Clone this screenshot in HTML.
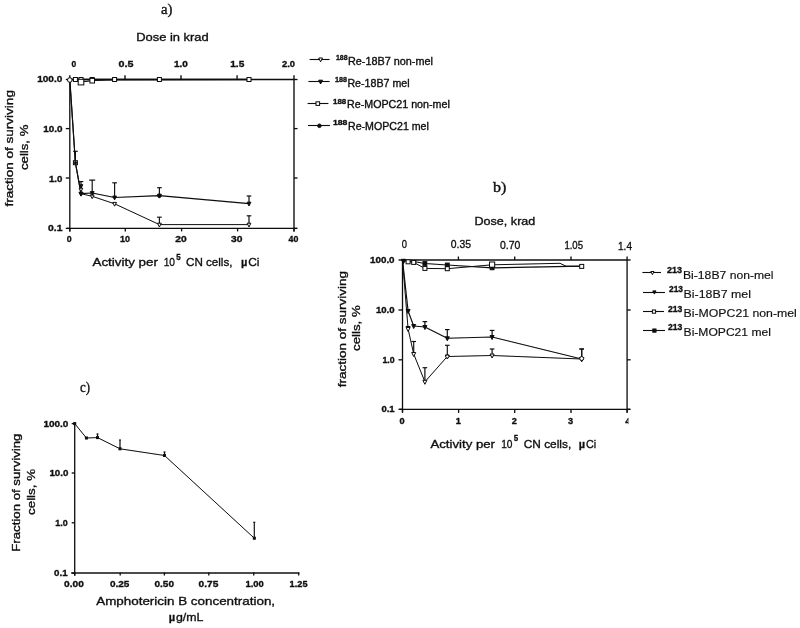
<!DOCTYPE html>
<html><head><meta charset="utf-8"><title>figure</title><style>html,body{margin:0;padding:0;background:#fff;overflow:hidden}svg{display:block}</style></head><body>
<svg width="800" height="628" viewBox="0 0 800 628" font-family="Liberation Sans, Arial, sans-serif">
<rect width="800" height="628" fill="#fff"/>
<defs><filter id="soft" x="0" y="0" width="800" height="628" filterUnits="userSpaceOnUse"><feGaussianBlur stdDeviation="0.35"/></filter></defs>
<g filter="url(#soft)">
<g id="chart-a">
<text transform="translate(161.00,14.2) scale(1.075,1)" font-size="13.8" font-weight="normal" fill="#111" stroke="#111" stroke-width="0.35" font-family="Liberation Serif, Times New Roman, serif">a)</text>
<text transform="translate(136.20,40.7) scale(1.115,1)" font-size="11.6" font-weight="normal" fill="#111" stroke="#111" stroke-width="0.35">Dose in krad</text>
<line x1="69.8" y1="79.0" x2="69.8" y2="231.4" stroke="#0a0a0a" stroke-width="1.3"/>
<line x1="69.8" y1="79.5" x2="294" y2="79.5" stroke="#0a0a0a" stroke-width="1.3"/>
<line x1="294" y1="79.0" x2="294" y2="231.4" stroke="#0a0a0a" stroke-width="1.3"/>
<line x1="66.8" y1="228.4" x2="297" y2="228.4" stroke="#0a0a0a" stroke-width="1.3"/>
<line x1="65.8" y1="79.5" x2="69.8" y2="79.5" stroke="#0a0a0a" stroke-width="1.3"/>
<line x1="294" y1="79.5" x2="297.5" y2="79.5" stroke="#0a0a0a" stroke-width="1.3"/>
<text transform="translate(37.20,82.4) scale(1.070,1)" font-size="9.4" font-weight="bold" fill="#111" stroke="#111" stroke-width="0.35">100.0</text>
<line x1="65.8" y1="128.6" x2="69.8" y2="128.6" stroke="#0a0a0a" stroke-width="1.3"/>
<line x1="294" y1="128.6" x2="297.5" y2="128.6" stroke="#0a0a0a" stroke-width="1.3"/>
<text transform="translate(43.20,131.5) scale(1.050,1)" font-size="9.4" font-weight="bold" fill="#111" stroke="#111" stroke-width="0.35">10.0</text>
<line x1="65.8" y1="178" x2="69.8" y2="178" stroke="#0a0a0a" stroke-width="1.3"/>
<line x1="294" y1="178" x2="297.5" y2="178" stroke="#0a0a0a" stroke-width="1.3"/>
<text transform="translate(49.00,181.8) scale(1.026,1)" font-size="9.4" font-weight="bold" fill="#111" stroke="#111" stroke-width="0.35">1.0</text>
<line x1="65.8" y1="228.4" x2="69.8" y2="228.4" stroke="#0a0a0a" stroke-width="1.3"/>
<line x1="294" y1="228.4" x2="297.5" y2="228.4" stroke="#0a0a0a" stroke-width="1.3"/>
<text transform="translate(48.00,231.3) scale(1.102,1)" font-size="9.4" font-weight="bold" fill="#111" stroke="#111" stroke-width="0.35">0.1</text>
<line x1="69.8" y1="228.4" x2="69.8" y2="231.4" stroke="#0a0a0a" stroke-width="1.3"/>
<text transform="translate(66.70,242.2) scale(0.939,1)" font-size="9.4" font-weight="bold" fill="#111" stroke="#111" stroke-width="0.35">0</text>
<line x1="125.3" y1="228.4" x2="125.3" y2="231.4" stroke="#0a0a0a" stroke-width="1.3"/>
<text transform="translate(120.00,242.2) scale(0.958,1)" font-size="9.4" font-weight="bold" fill="#111" stroke="#111" stroke-width="0.35">10</text>
<line x1="181.6" y1="228.4" x2="181.6" y2="231.4" stroke="#0a0a0a" stroke-width="1.3"/>
<text transform="translate(175.20,242.2) scale(1.093,1)" font-size="9.4" font-weight="bold" fill="#111" stroke="#111" stroke-width="0.35">20</text>
<line x1="237.6" y1="228.4" x2="237.6" y2="231.4" stroke="#0a0a0a" stroke-width="1.3"/>
<text transform="translate(231.00,242.2) scale(1.093,1)" font-size="9.4" font-weight="bold" fill="#111" stroke="#111" stroke-width="0.35">30</text>
<line x1="294" y1="228.4" x2="294" y2="231.4" stroke="#0a0a0a" stroke-width="1.3"/>
<text transform="translate(288.60,242.2) scale(0.939,1)" font-size="9.4" font-weight="bold" fill="#111" stroke="#111" stroke-width="0.35">40</text>
<line x1="69.8" y1="75.2" x2="69.8" y2="79.5" stroke="#0a0a0a" stroke-width="1.3"/>
<text transform="translate(71.60,66.5) scale(0.901,1)" font-size="9.4" font-weight="bold" fill="#111" stroke="#111" stroke-width="0.35">0</text>
<line x1="125" y1="75.2" x2="125" y2="79.5" stroke="#0a0a0a" stroke-width="1.3"/>
<text transform="translate(118.60,66.5) scale(1.140,1)" font-size="9.4" font-weight="bold" fill="#111" stroke="#111" stroke-width="0.35">0.5</text>
<line x1="181" y1="75.2" x2="181" y2="79.5" stroke="#0a0a0a" stroke-width="1.3"/>
<text transform="translate(173.90,66.5) scale(1.064,1)" font-size="9.4" font-weight="bold" fill="#111" stroke="#111" stroke-width="0.35">1.0</text>
<line x1="237.1" y1="75.2" x2="237.1" y2="79.5" stroke="#0a0a0a" stroke-width="1.3"/>
<text transform="translate(230.20,66.5) scale(1.079,1)" font-size="9.4" font-weight="bold" fill="#111" stroke="#111" stroke-width="0.35">1.5</text>
<line x1="294" y1="75.2" x2="294" y2="79.5" stroke="#0a0a0a" stroke-width="1.3"/>
<text transform="translate(282.00,66.5) scale(0.995,1)" font-size="9.4" font-weight="bold" fill="#111" stroke="#111" stroke-width="0.35">2.0</text>
<text transform="translate(13.0,206.60) rotate(-90) scale(1.167,1)" font-size="11.6" font-weight="normal" fill="#111" stroke="#111" stroke-width="0.35">fraction of surviving</text>
<text transform="translate(27.5,170.00) rotate(-90) scale(1.136,1)" font-size="11.6" font-weight="normal" fill="#111" stroke="#111" stroke-width="0.35">cells, %</text>
<text transform="translate(92.50,266.2) scale(1.155,1)" font-size="11.6" font-weight="normal" fill="#111" stroke="#111" stroke-width="0.35">Activity per</text>
<text transform="translate(163.70,266.2) scale(0.878,1)" font-size="11.6" font-weight="normal" fill="#111" stroke="#111" stroke-width="0.35">10</text>
<text transform="translate(176.20,260) scale(0.835,1)" font-size="9.5" font-weight="bold" fill="#111" stroke="#111" stroke-width="0.35">5</text>
<text transform="translate(186.00,266.2) scale(1.002,1)" font-size="11.6" font-weight="normal" fill="#111" stroke="#111" stroke-width="0.35">CN cells,</text>
<text transform="translate(241.00,266.2) scale(0.945,1)" font-size="11.6" font-weight="bold" fill="#111" stroke="#111" stroke-width="0.35">µ</text>
<text transform="translate(248.30,266.2) scale(1.022,1)" font-size="11.6" font-weight="normal" fill="#111" stroke="#111" stroke-width="0.35">Ci</text>
<polyline fill="none" stroke="#0a0a0a" stroke-width="1.6" stroke-linejoin="round" points="69.8,79.5 249.0,79.5"/>
<polyline fill="none" stroke="#0a0a0a" stroke-width="1" stroke-linejoin="round" points="69.8,79.5 75.4,79.5 81.0,82.1 92.2,80.7 114.6,79.8 249.0,79.5"/>
<polyline fill="none" stroke="#0a0a0a" stroke-width="1.2" stroke-linejoin="round" points="69.8,79.5 75.4,162.7 81.0,193.7 92.2,193.0 114.6,197.5 159.4,195.7 249.0,203.6"/>
<polyline fill="none" stroke="#0a0a0a" stroke-width="1.0" stroke-linejoin="round" points="69.8,79.5 75.4,162.7 81.0,193.7 92.2,196.3 114.6,203.8 159.4,224.6 249.0,224.6"/>
<line x1="159.39999999999998" y1="224.6" x2="159.39999999999998" y2="217.2" stroke="#0a0a0a" stroke-width="1.15"/>
<line x1="157.09999999999997" y1="217.2" x2="161.7" y2="217.2" stroke="#0a0a0a" stroke-width="1.15"/>
<line x1="249.0" y1="224.6" x2="249.0" y2="215.8" stroke="#0a0a0a" stroke-width="1.15"/>
<line x1="246.7" y1="215.8" x2="251.3" y2="215.8" stroke="#0a0a0a" stroke-width="1.15"/>
<line x1="75.39999999999999" y1="162.7" x2="75.39999999999999" y2="151.3" stroke="#0a0a0a" stroke-width="1.15"/>
<line x1="73.1" y1="151.3" x2="77.69999999999999" y2="151.3" stroke="#0a0a0a" stroke-width="1.15"/>
<line x1="81.0" y1="193.7" x2="81.0" y2="181.6" stroke="#0a0a0a" stroke-width="1.15"/>
<line x1="78.7" y1="181.6" x2="83.3" y2="181.6" stroke="#0a0a0a" stroke-width="1.15"/>
<line x1="92.19999999999999" y1="193" x2="92.19999999999999" y2="180.1" stroke="#0a0a0a" stroke-width="1.15"/>
<line x1="89.19999999999999" y1="180.1" x2="95.19999999999999" y2="180.1" stroke="#0a0a0a" stroke-width="1.15"/>
<line x1="114.6" y1="197.5" x2="114.6" y2="182.8" stroke="#0a0a0a" stroke-width="1.15"/>
<line x1="112.3" y1="182.8" x2="116.89999999999999" y2="182.8" stroke="#0a0a0a" stroke-width="1.15"/>
<line x1="159.39999999999998" y1="195.7" x2="159.39999999999998" y2="187.7" stroke="#0a0a0a" stroke-width="1.15"/>
<line x1="157.09999999999997" y1="187.7" x2="161.7" y2="187.7" stroke="#0a0a0a" stroke-width="1.15"/>
<line x1="249.0" y1="203.6" x2="249.0" y2="196" stroke="#0a0a0a" stroke-width="1.15"/>
<line x1="246.7" y1="196" x2="251.3" y2="196" stroke="#0a0a0a" stroke-width="1.15"/>
<rect x="73.39999999999999" y="77.5" width="4.0" height="4.0" fill="#fff" stroke="#0a0a0a" stroke-width="1"/>
<rect x="79.0" y="77.5" width="4.0" height="4.0" fill="#fff" stroke="#0a0a0a" stroke-width="1"/>
<rect x="90.19999999999999" y="77.5" width="4.0" height="4.0" fill="#fff" stroke="#0a0a0a" stroke-width="1"/>
<rect x="112.6" y="77.5" width="4.0" height="4.0" fill="#fff" stroke="#0a0a0a" stroke-width="1"/>
<rect x="157.39999999999998" y="77.5" width="4.0" height="4.0" fill="#fff" stroke="#0a0a0a" stroke-width="1"/>
<rect x="247.0" y="77.5" width="4.0" height="4.0" fill="#fff" stroke="#0a0a0a" stroke-width="1"/>
<rect x="78.2" y="79.3" width="5.6" height="5.6" fill="#fff" stroke="#0a0a0a" stroke-width="1"/>
<rect x="89.89999999999999" y="78.4" width="4.6" height="4.6" fill="#fff" stroke="#0a0a0a" stroke-width="1"/>
<circle cx="69.8" cy="80.0" r="2.3" fill="#fff" stroke="#0a0a0a" stroke-width="1"/>
<polygon points="79.1,192.29999999999998 82.9,192.29999999999998 81.0,196.1" fill="#fff" stroke="#0a0a0a" stroke-width="1"/>
<polygon points="90.29999999999998,194.9 94.1,194.9 92.19999999999999,198.70000000000002" fill="#fff" stroke="#0a0a0a" stroke-width="1"/>
<polygon points="112.69999999999999,202.4 116.5,202.4 114.6,206.20000000000002" fill="#fff" stroke="#0a0a0a" stroke-width="1"/>
<polygon points="157.49999999999997,223.2 161.29999999999998,223.2 159.39999999999998,227.0" fill="#fff" stroke="#0a0a0a" stroke-width="1"/>
<polygon points="247.1,223.2 250.9,223.2 249.0,227.0" fill="#fff" stroke="#0a0a0a" stroke-width="1"/>
<polygon points="79.1,192.29999999999998 82.9,192.29999999999998 81.0,196.1" fill="#0a0a0a" stroke="#0a0a0a" stroke-width="1"/>
<polygon points="90.29999999999998,191.6 94.1,191.6 92.19999999999999,195.4" fill="#0a0a0a" stroke="#0a0a0a" stroke-width="1"/>
<polygon points="112.69999999999999,196.1 116.5,196.1 114.6,199.9" fill="#0a0a0a" stroke="#0a0a0a" stroke-width="1"/>
<polygon points="157.49999999999997,194.29999999999998 161.29999999999998,194.29999999999998 159.39999999999998,198.1" fill="#0a0a0a" stroke="#0a0a0a" stroke-width="1"/>
<polygon points="247.1,202.2 250.9,202.2 249.0,206.0" fill="#0a0a0a" stroke="#0a0a0a" stroke-width="1"/>
<polygon points="79.2,184.7 82.8,184.7 81.0,188.3" fill="#0a0a0a" stroke="#0a0a0a" stroke-width="1"/>
<polygon points="79.2,188.2 82.8,188.2 81.0,191.8" fill="#fff" stroke="#0a0a0a" stroke-width="1"/>
<rect x="73.39999999999999" y="160.7" width="4.0" height="4.0" fill="#fff" stroke="#0a0a0a" stroke-width="1"/>
<circle cx="75.39999999999999" cy="162.7" r="1.2" fill="#0a0a0a" stroke="#0a0a0a" stroke-width="1"/>
<circle cx="159.39999999999998" cy="195.7" r="1.8" fill="#0a0a0a" stroke="#0a0a0a" stroke-width="1"/>
<line x1="309.6" y1="59.5" x2="329.6" y2="59.5" stroke="#0a0a0a" stroke-width="1.1"/>
<polygon points="318.70000000000005,58.0 322.5,58.0 320.6,61.8" fill="#fff" stroke="#0a0a0a" stroke-width="1"/>
<text transform="translate(336.00,60) scale(0.914,1)" font-size="7.6" font-weight="bold" fill="#111" stroke="#111" stroke-width="0.35">188</text>
<text transform="translate(348.00,64.5) scale(1.063,1)" font-size="10.2" font-weight="normal" fill="#111" stroke="#111" stroke-width="0.35">Re-18B7 non-mel</text>
<line x1="308.4" y1="81.5" x2="329.6" y2="81.5" stroke="#0a0a0a" stroke-width="1.1"/>
<polygon points="318.70000000000005,80.19999999999999 322.5,80.19999999999999 320.6,84.0" fill="#0a0a0a" stroke="#0a0a0a" stroke-width="1"/>
<text transform="translate(335.00,82.4) scale(0.945,1)" font-size="7.6" font-weight="bold" fill="#111" stroke="#111" stroke-width="0.35">188</text>
<text transform="translate(347.40,86.9) scale(1.045,1)" font-size="10.2" font-weight="normal" fill="#111" stroke="#111" stroke-width="0.35">Re-18B7 mel</text>
<line x1="307.6" y1="103.5" x2="328.4" y2="103.5" stroke="#0a0a0a" stroke-width="1.1"/>
<rect x="316.0" y="101.8" width="3.6" height="3.6" fill="#fff" stroke="#0a0a0a" stroke-width="1"/>
<text transform="translate(333.00,103.6) scale(1.040,1)" font-size="7.6" font-weight="bold" fill="#111" stroke="#111" stroke-width="0.35">188</text>
<text transform="translate(347.00,108.1) scale(1.050,1)" font-size="10.2" font-weight="normal" fill="#111" stroke="#111" stroke-width="0.35">Re-MOPC21 non-mel</text>
<line x1="308" y1="125.5" x2="330" y2="125.5" stroke="#0a0a0a" stroke-width="1.1"/>
<circle cx="319.4" cy="125.8" r="1.8" fill="#0a0a0a" stroke="#0a0a0a" stroke-width="1"/>
<text transform="translate(333.00,125) scale(1.135,1)" font-size="7.6" font-weight="bold" fill="#111" stroke="#111" stroke-width="0.35">188</text>
<text transform="translate(348.00,129.5) scale(1.043,1)" font-size="10.2" font-weight="normal" fill="#111" stroke="#111" stroke-width="0.35">Re-MOPC21 mel</text>
</g>
<g id="chart-b">
<text transform="translate(493.00,191.6) scale(1.163,1)" font-size="13.8" font-weight="normal" fill="#111" stroke="#111" stroke-width="0.35" font-family="Liberation Serif, Times New Roman, serif">b)</text>
<text transform="translate(474.50,225.2) scale(1.086,1)" font-size="11.6" font-weight="normal" fill="#111" stroke="#111" stroke-width="0.35">Dose, krad</text>
<line x1="402.5" y1="259.5" x2="402.5" y2="412.3" stroke="#0a0a0a" stroke-width="1.3"/>
<line x1="402.5" y1="260" x2="627.1" y2="260" stroke="#0a0a0a" stroke-width="1.3"/>
<line x1="627.1" y1="259.5" x2="627.1" y2="412.3" stroke="#0a0a0a" stroke-width="1.3"/>
<line x1="399.5" y1="409.3" x2="630.1" y2="409.3" stroke="#0a0a0a" stroke-width="1.3"/>
<line x1="398.5" y1="260" x2="402.5" y2="260" stroke="#0a0a0a" stroke-width="1.3"/>
<line x1="627.1" y1="260" x2="630.6" y2="260" stroke="#0a0a0a" stroke-width="1.3"/>
<text transform="translate(370.00,263.1) scale(1.045,1)" font-size="9.4" font-weight="bold" fill="#111" stroke="#111" stroke-width="0.35">100.0</text>
<line x1="398.5" y1="310" x2="402.5" y2="310" stroke="#0a0a0a" stroke-width="1.3"/>
<line x1="627.1" y1="310" x2="630.6" y2="310" stroke="#0a0a0a" stroke-width="1.3"/>
<text transform="translate(376.00,313.1) scale(1.017,1)" font-size="9.4" font-weight="bold" fill="#111" stroke="#111" stroke-width="0.35">10.0</text>
<line x1="398.5" y1="359.8" x2="402.5" y2="359.8" stroke="#0a0a0a" stroke-width="1.3"/>
<line x1="627.1" y1="359.8" x2="630.6" y2="359.8" stroke="#0a0a0a" stroke-width="1.3"/>
<text transform="translate(382.40,362.90000000000003) scale(0.934,1)" font-size="9.4" font-weight="bold" fill="#111" stroke="#111" stroke-width="0.35">1.0</text>
<line x1="398.5" y1="409.3" x2="402.5" y2="409.3" stroke="#0a0a0a" stroke-width="1.3"/>
<line x1="627.1" y1="409.3" x2="630.6" y2="409.3" stroke="#0a0a0a" stroke-width="1.3"/>
<text transform="translate(381.40,412.40000000000003) scale(1.010,1)" font-size="9.4" font-weight="bold" fill="#111" stroke="#111" stroke-width="0.35">0.1</text>
<clipPath id="clip4"><rect x="620" y="414" width="8.4" height="14"/></clipPath>
<line x1="402.5" y1="409.3" x2="402.5" y2="412.90000000000003" stroke="#0a0a0a" stroke-width="1.3"/>
<text transform="translate(399.60,424.1) scale(0.978,1)" font-size="9.4" font-weight="bold" fill="#111" stroke="#111" stroke-width="0.35">0</text>
<line x1="458.6" y1="409.3" x2="458.6" y2="412.90000000000003" stroke="#0a0a0a" stroke-width="1.3"/>
<text transform="translate(455.70,424.1) scale(0.978,1)" font-size="9.4" font-weight="bold" fill="#111" stroke="#111" stroke-width="0.35">1</text>
<line x1="514.7" y1="409.3" x2="514.7" y2="412.90000000000003" stroke="#0a0a0a" stroke-width="1.3"/>
<text transform="translate(511.80,424.1) scale(0.978,1)" font-size="9.4" font-weight="bold" fill="#111" stroke="#111" stroke-width="0.35">2</text>
<line x1="571" y1="409.3" x2="571" y2="412.90000000000003" stroke="#0a0a0a" stroke-width="1.3"/>
<text transform="translate(568.10,424.1) scale(0.978,1)" font-size="9.4" font-weight="bold" fill="#111" stroke="#111" stroke-width="0.35">3</text>
<line x1="627.1" y1="409.3" x2="627.1" y2="412.90000000000003" stroke="#0a0a0a" stroke-width="1.3"/>
<g clip-path="url(#clip4)">
<text transform="translate(625.30,424.1) scale(1.035,1)" font-size="9.4" font-weight="bold" fill="#111" stroke="#111" stroke-width="0.35">4</text>
</g>
<text transform="translate(401.80,247.6) scale(0.822,1)" font-size="11.4" font-weight="normal" fill="#111" stroke="#111" stroke-width="0.35">0</text>
<line x1="458.4" y1="256.5" x2="458.4" y2="260" stroke="#0a0a0a" stroke-width="1.3"/>
<text transform="translate(450.80,247.8) scale(0.911,1)" font-size="11.4" font-weight="normal" fill="#111" stroke="#111" stroke-width="0.35">0.35</text>
<line x1="514.7" y1="256.5" x2="514.7" y2="260" stroke="#0a0a0a" stroke-width="1.3"/>
<text transform="translate(500.00,248.6) scale(0.920,1)" font-size="11.4" font-weight="normal" fill="#111" stroke="#111" stroke-width="0.35">0.70</text>
<line x1="571" y1="256.5" x2="571" y2="260" stroke="#0a0a0a" stroke-width="1.3"/>
<text transform="translate(564.40,248.6) scale(0.839,1)" font-size="11.4" font-weight="normal" fill="#111" stroke="#111" stroke-width="0.35">1.05</text>
<line x1="627.1" y1="256.5" x2="627.1" y2="260" stroke="#0a0a0a" stroke-width="1.3"/>
<text transform="translate(618.00,249.6) scale(0.884,1)" font-size="11.4" font-weight="normal" fill="#111" stroke="#111" stroke-width="0.35">1.4</text>
<text transform="translate(345.6,387.30) rotate(-90) scale(1.165,1)" font-size="11.6" font-weight="normal" fill="#111" stroke="#111" stroke-width="0.35">fraction of surviving</text>
<text transform="translate(360.3,351.00) rotate(-90) scale(1.144,1)" font-size="11.6" font-weight="normal" fill="#111" stroke="#111" stroke-width="0.35">cells, %</text>
<text transform="translate(430.50,447.7) scale(1.137,1)" font-size="11.6" font-weight="normal" fill="#111" stroke="#111" stroke-width="0.35">Activity per</text>
<text transform="translate(501.20,447.7) scale(0.878,1)" font-size="11.6" font-weight="normal" fill="#111" stroke="#111" stroke-width="0.35">10</text>
<text transform="translate(513.70,441.3) scale(0.835,1)" font-size="9.5" font-weight="bold" fill="#111" stroke="#111" stroke-width="0.35">5</text>
<text transform="translate(523.70,447.7) scale(1.024,1)" font-size="11.6" font-weight="normal" fill="#111" stroke="#111" stroke-width="0.35">CN cells,</text>
<text transform="translate(578.70,447.7) scale(0.945,1)" font-size="11.6" font-weight="bold" fill="#111" stroke="#111" stroke-width="0.35">µ</text>
<text transform="translate(586.00,447.7) scale(0.930,1)" font-size="11.6" font-weight="normal" fill="#111" stroke="#111" stroke-width="0.35">Ci</text>
<polyline fill="none" stroke="#0a0a0a" stroke-width="1.0" stroke-linejoin="round" points="402.5,260.0 408.1,261.8 413.7,262.4 424.9,268.4 447.3,268.7 492.1,264.8 560.0,263.3 566.0,266.2 581.7,266.4"/>
<polyline fill="none" stroke="#0a0a0a" stroke-width="1.2" stroke-linejoin="round" points="402.5,260.0 408.1,261.0 413.7,261.5 424.9,263.5 447.3,265.0 492.1,267.8 581.7,266.2"/>
<rect x="423.0" y="261.6" width="3.8" height="3.8" fill="#0a0a0a" stroke="#0a0a0a" stroke-width="1"/>
<rect x="445.40000000000003" y="263.1" width="3.8" height="3.8" fill="#0a0a0a" stroke="#0a0a0a" stroke-width="1"/>
<rect x="490.20000000000005" y="265.90000000000003" width="3.8" height="3.8" fill="#0a0a0a" stroke="#0a0a0a" stroke-width="1"/>
<rect x="406.1" y="259.8" width="4.0" height="4.0" fill="#fff" stroke="#0a0a0a" stroke-width="1"/>
<rect x="411.7" y="260.4" width="4.0" height="4.0" fill="#fff" stroke="#0a0a0a" stroke-width="1"/>
<rect x="422.9" y="266.4" width="4.0" height="4.0" fill="#fff" stroke="#0a0a0a" stroke-width="1"/>
<rect x="445.3" y="266.7" width="4.0" height="4.0" fill="#fff" stroke="#0a0a0a" stroke-width="1"/>
<rect x="490.1" y="262.8" width="4.0" height="4.0" fill="#fff" stroke="#0a0a0a" stroke-width="1"/>
<rect x="579.7" y="264.4" width="4.0" height="4.0" fill="#fff" stroke="#0a0a0a" stroke-width="1"/>
<rect x="489.5" y="262.0" width="5.2" height="5.2" fill="#fff" stroke="#0a0a0a" stroke-width="1"/>
<polyline fill="none" stroke="#0a0a0a" stroke-width="1.15" stroke-linejoin="round" points="402.5,260.0 408.1,311.0 413.7,326.0 424.9,327.0 447.3,338.3 492.1,337.0 581.7,359.0"/>
<polyline fill="none" stroke="#0a0a0a" stroke-width="1.0" stroke-linejoin="round" points="402.5,260.0 408.1,329.0 413.7,354.0 424.9,381.8 447.3,356.5 492.1,355.5 581.7,359.0"/>
<line x1="408.1" y1="329" x2="408.1" y2="326.5" stroke="#0a0a0a" stroke-width="1.15"/>
<line x1="405.8" y1="326.5" x2="410.40000000000003" y2="326.5" stroke="#0a0a0a" stroke-width="1.15"/>
<line x1="413.7" y1="354" x2="413.7" y2="341.5" stroke="#0a0a0a" stroke-width="1.15"/>
<line x1="411.4" y1="341.5" x2="416.0" y2="341.5" stroke="#0a0a0a" stroke-width="1.15"/>
<line x1="424.9" y1="381.8" x2="424.9" y2="367.7" stroke="#0a0a0a" stroke-width="1.15"/>
<line x1="422.59999999999997" y1="367.7" x2="427.2" y2="367.7" stroke="#0a0a0a" stroke-width="1.15"/>
<line x1="447.3" y1="356.5" x2="447.3" y2="345.3" stroke="#0a0a0a" stroke-width="1.15"/>
<line x1="445.0" y1="345.3" x2="449.6" y2="345.3" stroke="#0a0a0a" stroke-width="1.15"/>
<line x1="492.1" y1="355.5" x2="492.1" y2="349" stroke="#0a0a0a" stroke-width="1.15"/>
<line x1="489.8" y1="349" x2="494.40000000000003" y2="349" stroke="#0a0a0a" stroke-width="1.15"/>
<line x1="581.7" y1="359" x2="581.7" y2="349" stroke="#0a0a0a" stroke-width="1.15"/>
<line x1="579.4000000000001" y1="349" x2="584.0" y2="349" stroke="#0a0a0a" stroke-width="1.15"/>
<line x1="424.9" y1="327" x2="424.9" y2="321.6" stroke="#0a0a0a" stroke-width="1.15"/>
<line x1="422.59999999999997" y1="321.6" x2="427.2" y2="321.6" stroke="#0a0a0a" stroke-width="1.15"/>
<line x1="447.3" y1="338.3" x2="447.3" y2="329.6" stroke="#0a0a0a" stroke-width="1.15"/>
<line x1="445.0" y1="329.6" x2="449.6" y2="329.6" stroke="#0a0a0a" stroke-width="1.15"/>
<line x1="492.1" y1="337" x2="492.1" y2="330.4" stroke="#0a0a0a" stroke-width="1.15"/>
<line x1="489.8" y1="330.4" x2="494.40000000000003" y2="330.4" stroke="#0a0a0a" stroke-width="1.15"/>
<line x1="581.7" y1="359" x2="581.7" y2="349" stroke="#0a0a0a" stroke-width="1.15"/>
<line x1="579.4000000000001" y1="349" x2="584.0" y2="349" stroke="#0a0a0a" stroke-width="1.15"/>
<polygon points="401.3,259.3 405.7,259.3 403.5,263.7" fill="#0a0a0a" stroke="#0a0a0a" stroke-width="1"/>
<polygon points="406.1,327.5 410.1,327.5 408.1,331.5" fill="#fff" stroke="#0a0a0a" stroke-width="1"/>
<polygon points="411.7,352.5 415.7,352.5 413.7,356.5" fill="#fff" stroke="#0a0a0a" stroke-width="1"/>
<polygon points="422.9,380.3 426.9,380.3 424.9,384.3" fill="#fff" stroke="#0a0a0a" stroke-width="1"/>
<polygon points="445.3,355.0 449.3,355.0 447.3,359.0" fill="#fff" stroke="#0a0a0a" stroke-width="1"/>
<polygon points="490.1,354.0 494.1,354.0 492.1,358.0" fill="#fff" stroke="#0a0a0a" stroke-width="1"/>
<polygon points="579.7,357.5 583.7,357.5 581.7,361.5" fill="#fff" stroke="#0a0a0a" stroke-width="1"/>
<polygon points="406.1,309.5 410.1,309.5 408.1,313.5" fill="#0a0a0a" stroke="#0a0a0a" stroke-width="1"/>
<polygon points="411.7,324.5 415.7,324.5 413.7,328.5" fill="#0a0a0a" stroke="#0a0a0a" stroke-width="1"/>
<polygon points="422.9,325.5 426.9,325.5 424.9,329.5" fill="#0a0a0a" stroke="#0a0a0a" stroke-width="1"/>
<polygon points="445.3,336.8 449.3,336.8 447.3,340.8" fill="#0a0a0a" stroke="#0a0a0a" stroke-width="1"/>
<polygon points="490.1,335.5 494.1,335.5 492.1,339.5" fill="#0a0a0a" stroke="#0a0a0a" stroke-width="1"/>
<polygon points="579.7,357.5 583.7,357.5 581.7,361.5" fill="#0a0a0a" stroke="#0a0a0a" stroke-width="1"/>
<circle cx="447.3" cy="356.5" r="1.6" fill="#fff" stroke="#0a0a0a" stroke-width="1"/>
<circle cx="581.7" cy="358.5" r="2.0" fill="#fff" stroke="#0a0a0a" stroke-width="1"/>
<line x1="642.4" y1="272.5" x2="661" y2="272.5" stroke="#0a0a0a" stroke-width="1.1"/>
<polygon points="650.8,271.5 654.0,271.5 652.4,274.70000000000005" fill="#fff" stroke="#0a0a0a" stroke-width="1"/>
<text transform="translate(667.00,272.8) scale(0.945,1)" font-size="9.5" font-weight="bold" fill="#111" stroke="#111" stroke-width="0.35">213</text>
<text transform="translate(683.00,278.6) scale(1.126,1)" font-size="10.8" font-weight="normal" fill="#111" stroke="#111" stroke-width="0.15">Bi-18B7 non-mel</text>
<line x1="643" y1="292.5" x2="665" y2="292.5" stroke="#0a0a0a" stroke-width="1.1"/>
<polygon points="652.8,290.9 656.0,290.9 654.4,294.1" fill="#0a0a0a" stroke="#0a0a0a" stroke-width="1"/>
<text transform="translate(669.00,292.2) scale(0.882,1)" font-size="9.5" font-weight="bold" fill="#111" stroke="#111" stroke-width="0.35">213</text>
<text transform="translate(683.60,298) scale(1.146,1)" font-size="10.8" font-weight="normal" fill="#111" stroke="#111" stroke-width="0.15">Bi-18B7 mel</text>
<line x1="643" y1="311.5" x2="664" y2="311.5" stroke="#0a0a0a" stroke-width="1.1"/>
<rect x="652.4" y="310.0" width="3.2" height="3.2" fill="#fff" stroke="#0a0a0a" stroke-width="1"/>
<text transform="translate(668.00,311.59999999999997) scale(0.908,1)" font-size="9.5" font-weight="bold" fill="#111" stroke="#111" stroke-width="0.35">213</text>
<text transform="translate(683.60,317.4) scale(1.138,1)" font-size="10.8" font-weight="normal" fill="#111" stroke="#111" stroke-width="0.15">Bi-MOPC21 non-mel</text>
<line x1="643" y1="330.5" x2="665" y2="330.5" stroke="#0a0a0a" stroke-width="1.1"/>
<rect x="652.8" y="329.0" width="3.2" height="3.2" fill="#0a0a0a" stroke="#0a0a0a" stroke-width="1"/>
<text transform="translate(668.00,329.8) scale(0.908,1)" font-size="9.5" font-weight="bold" fill="#111" stroke="#111" stroke-width="0.35">213</text>
<text transform="translate(683.60,335.6) scale(1.120,1)" font-size="10.8" font-weight="normal" fill="#111" stroke="#111" stroke-width="0.15">Bi-MOPC21 mel</text>
</g>
<g id="chart-c">
<text transform="translate(80.00,391.8) scale(0.935,1)" font-size="13.8" font-weight="normal" fill="#111" stroke="#111" stroke-width="0.35" font-family="Liberation Serif, Times New Roman, serif">c)</text>
<line x1="74.7" y1="423.1" x2="74.7" y2="575.8" stroke="#0a0a0a" stroke-width="1.3"/>
<line x1="71.3" y1="573.0" x2="299.3" y2="573.0" stroke="#0a0a0a" stroke-width="1.3"/>
<line x1="71.7" y1="423.6" x2="74.7" y2="423.6" stroke="#0a0a0a" stroke-width="1.3"/>
<text transform="translate(43.40,426.8) scale(1.062,1)" font-size="9.4" font-weight="bold" fill="#111" stroke="#111" stroke-width="0.35">100.0</text>
<line x1="71.7" y1="473" x2="74.7" y2="473" stroke="#0a0a0a" stroke-width="1.3"/>
<text transform="translate(49.40,476.2) scale(1.039,1)" font-size="9.4" font-weight="bold" fill="#111" stroke="#111" stroke-width="0.35">10.0</text>
<line x1="71.7" y1="522.8" x2="74.7" y2="522.8" stroke="#0a0a0a" stroke-width="1.3"/>
<text transform="translate(55.20,526.0) scale(0.949,1)" font-size="9.4" font-weight="bold" fill="#111" stroke="#111" stroke-width="0.35">1.0</text>
<line x1="71.7" y1="573.2" x2="74.7" y2="573.2" stroke="#0a0a0a" stroke-width="1.3"/>
<text transform="translate(54.10,576.4000000000001) scale(1.033,1)" font-size="9.4" font-weight="bold" fill="#111" stroke="#111" stroke-width="0.35">0.1</text>
<line x1="74.7" y1="572.5" x2="74.7" y2="575.5" stroke="#0a0a0a" stroke-width="1.3"/>
<text transform="translate(64.00,587.3) scale(1.083,1)" font-size="9.4" font-weight="bold" fill="#111" stroke="#111" stroke-width="0.35">0.00</text>
<line x1="120.2" y1="572.5" x2="120.2" y2="575.5" stroke="#0a0a0a" stroke-width="1.3"/>
<text transform="translate(110.00,587.3) scale(1.061,1)" font-size="9.4" font-weight="bold" fill="#111" stroke="#111" stroke-width="0.35">0.25</text>
<line x1="164.4" y1="572.5" x2="164.4" y2="575.5" stroke="#0a0a0a" stroke-width="1.3"/>
<text transform="translate(154.50,587.3) scale(1.067,1)" font-size="9.4" font-weight="bold" fill="#111" stroke="#111" stroke-width="0.35">0.50</text>
<line x1="208.8" y1="572.5" x2="208.8" y2="575.5" stroke="#0a0a0a" stroke-width="1.3"/>
<text transform="translate(198.50,587.3) scale(1.083,1)" font-size="9.4" font-weight="bold" fill="#111" stroke="#111" stroke-width="0.35">0.75</text>
<line x1="253.7" y1="572.5" x2="253.7" y2="575.5" stroke="#0a0a0a" stroke-width="1.3"/>
<text transform="translate(245.40,587.3) scale(1.001,1)" font-size="9.4" font-weight="bold" fill="#111" stroke="#111" stroke-width="0.35">1.00</text>
<line x1="298.7" y1="572.5" x2="298.7" y2="575.5" stroke="#0a0a0a" stroke-width="1.3"/>
<text transform="translate(289.60,587.3) scale(0.979,1)" font-size="9.4" font-weight="bold" fill="#111" stroke="#111" stroke-width="0.35">1.25</text>
<text transform="translate(20.4,551.70) rotate(-90) scale(1.139,1)" font-size="11.6" font-weight="normal" fill="#111" stroke="#111" stroke-width="0.35">Fraction of surviving</text>
<text transform="translate(35,514.90) rotate(-90) scale(1.149,1)" font-size="11.6" font-weight="normal" fill="#111" stroke="#111" stroke-width="0.35">cells, %</text>
<text transform="translate(96.20,605.4) scale(1.157,1)" font-size="11.6" font-weight="normal" fill="#111" stroke="#111" stroke-width="0.35">Amphotericin B concentration,</text>
<text transform="translate(168.80,620.8) scale(0.960,1)" font-size="11.6" font-weight="bold" fill="#111" stroke="#111" stroke-width="0.35">µ</text>
<text transform="translate(176.00,620.8) scale(1.062,1)" font-size="11.6" font-weight="normal" fill="#111" stroke="#111" stroke-width="0.35">g/mL</text>
<polyline fill="none" stroke="#0a0a0a" stroke-width="1.0" stroke-linejoin="round" points="74.7,423.6 86.4,438.0 97.5,437.6 120.0,448.8 164.5,455.5 254.3,538.2"/>
<line x1="97.5" y1="437.6" x2="97.5" y2="434" stroke="#0a0a0a" stroke-width="1.15"/>
<line x1="96.5" y1="434" x2="98.5" y2="434" stroke="#0a0a0a" stroke-width="1.15"/>
<line x1="120" y1="448.8" x2="120" y2="440" stroke="#0a0a0a" stroke-width="1.15"/>
<line x1="119.0" y1="440" x2="121.0" y2="440" stroke="#0a0a0a" stroke-width="1.15"/>
<line x1="164.5" y1="455.5" x2="164.5" y2="452" stroke="#0a0a0a" stroke-width="1.15"/>
<line x1="163.5" y1="452" x2="165.5" y2="452" stroke="#0a0a0a" stroke-width="1.15"/>
<line x1="254.3" y1="538.2" x2="254.3" y2="522.3" stroke="#0a0a0a" stroke-width="1.15"/>
<line x1="253.3" y1="522.3" x2="255.3" y2="522.3" stroke="#0a0a0a" stroke-width="1.15"/>
<rect x="73.7" y="422.6" width="2.0" height="2.0" fill="#0a0a0a" stroke="#0a0a0a" stroke-width="1"/>
<rect x="85.4" y="437.0" width="2.0" height="2.0" fill="#0a0a0a" stroke="#0a0a0a" stroke-width="1"/>
<rect x="96.5" y="436.6" width="2.0" height="2.0" fill="#0a0a0a" stroke="#0a0a0a" stroke-width="1"/>
<rect x="119.0" y="447.8" width="2.0" height="2.0" fill="#0a0a0a" stroke="#0a0a0a" stroke-width="1"/>
<rect x="163.5" y="454.5" width="2.0" height="2.0" fill="#0a0a0a" stroke="#0a0a0a" stroke-width="1"/>
<rect x="253.3" y="537.2" width="2.0" height="2.0" fill="#0a0a0a" stroke="#0a0a0a" stroke-width="1"/>
</g>
</g>
</svg>
</body></html>
